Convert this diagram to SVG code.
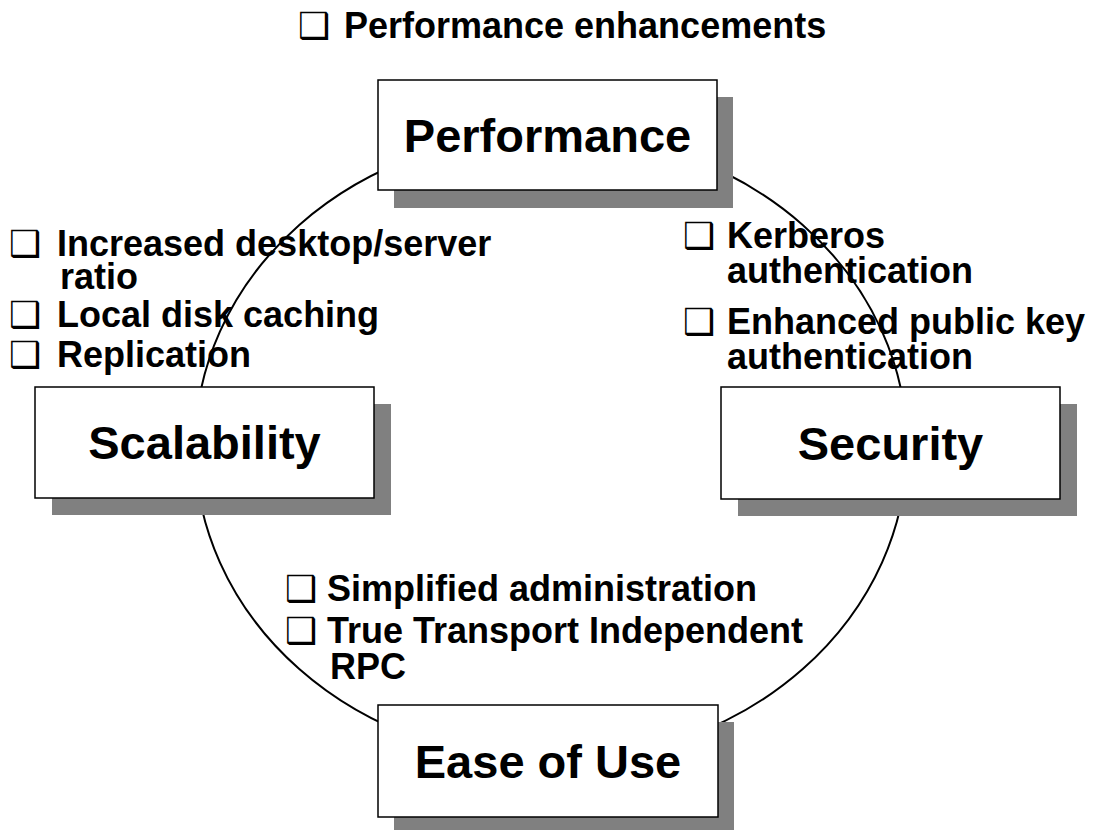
<svg xmlns="http://www.w3.org/2000/svg" width="1114" height="830" viewBox="0 0 1114 830">
<style>
.shadow{fill:#808080;stroke:none}
.box{fill:#ffffff;stroke:#000000;stroke-width:1.5}
.lbl{font-family:"Liberation Sans",Arial,sans-serif;font-weight:bold;font-size:47px;fill:#000;text-anchor:middle}
.bt{font-family:"Liberation Sans",Arial,sans-serif;font-weight:bold;font-size:36px;fill:#000}
.bul{font-family:"DejaVu Sans",sans-serif;font-weight:normal;font-size:36px;fill:#000}
.ring{fill:none;stroke:#000;stroke-width:2}
</style>
<rect width="1114" height="830" fill="#ffffff"/>
<g id="connectors">
<ellipse class="ring" cx="551" cy="447" rx="356" ry="314"/>
</g>
<g id="node-performance">
<rect class="shadow" x="394" y="97" width="339" height="111"/>
<rect class="box" x="378" y="80" width="339" height="110"/>
<text class="lbl" x="547.5" y="152">Performance</text>
</g>
<g id="node-scalability">
<rect class="shadow" x="52" y="404" width="339" height="111"/>
<rect class="box" x="35" y="387" width="339" height="111"/>
<text class="lbl" x="204.5" y="459">Scalability</text>
</g>
<g id="node-security">
<rect class="shadow" x="738" y="404" width="339" height="112"/>
<rect class="box" x="721" y="387" width="339" height="112"/>
<text class="lbl" x="890.5" y="460">Security</text>
</g>
<g id="node-ease">
<rect class="shadow" x="394" y="722" width="340" height="112"/>
<rect class="box" x="378" y="705" width="340" height="112"/>
<text class="lbl" x="548" y="778">Ease of Use</text>
</g>
<g id="text-performance">
<text class="bul" x="298" y="38">❑</text>
<text class="bt" x="344" y="38">Performance enhancements</text>
</g>
<g id="text-scalability">
<text class="bul" x="9" y="256">❑</text>
<text class="bt" x="57" y="256">Increased desktop/server</text>
<text class="bt" x="60" y="289">ratio</text>
<text class="bul" x="9" y="327">❑</text>
<text class="bt" x="57" y="327">Local disk caching</text>
<text class="bul" x="9" y="367">❑</text>
<text class="bt" x="57" y="367">Replication</text>
</g>
<g id="text-security">
<text class="bul" x="683" y="248">❑</text>
<text class="bt" x="727" y="248">Kerberos</text>
<text class="bt" x="727" y="283">authentication</text>
<text class="bul" x="683" y="334">❑</text>
<text class="bt" x="727" y="334">Enhanced public key</text>
<text class="bt" x="727" y="369">authentication</text>
</g>
<g id="text-ease">
<text class="bul" x="285" y="601">❑</text>
<text class="bt" x="327" y="601">Simplified administration</text>
<text class="bul" x="285" y="643">❑</text>
<text class="bt" x="327" y="643">True Transport Independent</text>
<text class="bt" x="330" y="679">RPC</text>
</g>
</svg>
